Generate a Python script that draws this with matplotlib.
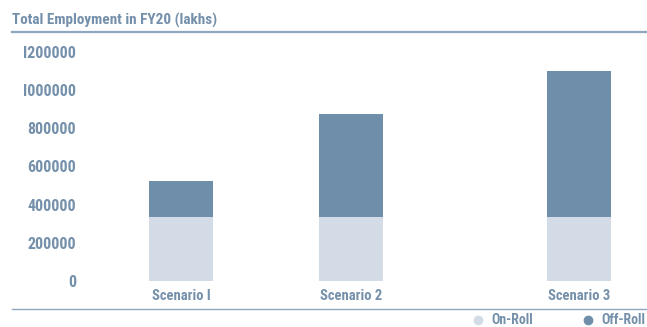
import matplotlib
matplotlib.use("Agg")
import matplotlib.pyplot as plt
from matplotlib import font_manager
from matplotlib.lines import Line2D

# data
scenarios = ["Scenario I", "Scenario 2", "Scenario 3"]
on_roll = [335000, 335000, 335000]
off_roll = [190000, 540000, 765000]
y_ticks = [0, 200000, 400000, 600000, 800000, 1000000, 1200000]
y_tick_labels = ["0", "200000", "400000", "600000", "800000", "I000000", "I200000"]

# styling
light = "#d3dce6"
dark = "#6f8ea9"
txt = "#7590ab"
rule = "#8fa7bf"

# pick a narrow font if one is around
names = {f.name: f for f in font_manager.fontManager.ttflist}
stretch = "normal"
family = "DejaVu Sans"
for cand in ["Liberation Sans Narrow", "Roboto Condensed", "Open Sans Condensed"]:
    if cand in names:
        family = cand
        break
else:
    cond = [f for f in font_manager.fontManager.ttflist
            if f.name == "DejaVu Sans" and f.stretch == "condensed"]
    if cond:
        stretch = "condensed"
plt.rcParams["font.family"] = [family, "DejaVu Sans"]
plt.rcParams["font.stretch"] = stretch
plt.rcParams["font.weight"] = "bold"

W, H = 647, 327
fig = plt.figure(figsize=(W / 100, H / 100), dpi=100)

# layout in pixels
ax_left, ax_bottom, ax_top = 85, 281, 42
ax = fig.add_axes([ax_left / W, (H - ax_bottom) / H, (W - ax_left) / W, (ax_bottom - ax_top) / H])

x_pos = [0, 1, 2.34]  # uneven spacing as in the reference
bw = 0.376
ax.bar(x_pos, on_roll, width=bw, color=light, label="On-Roll")
ax.bar(x_pos, off_roll, width=bw, bottom=on_roll, color=dark, label="Off-Roll")

px_unit = 170.0
ax.set_xlim((ax_left - 181) / px_unit, (W - 181) / px_unit)
ymax = 200000 * (ax_bottom - ax_top) / 38.2
ax.set_ylim(0, ymax)

ax.set_yticks(y_ticks)
ax.set_yticklabels(y_tick_labels)
ax.set_xticks(x_pos)
ax.set_xticklabels(scenarios)
ax.tick_params(axis="both", length=0, colors=txt)
ax.tick_params(axis="y", pad=6.5, labelsize=11.5)
ax.tick_params(axis="x", pad=6, labelsize=10.5)
for s in ax.spines.values():
    s.set_visible(False)

# title and rules
fig.text(12 / W, 1 - 20 / H, "Total Employment in FY20 (lakhs)", color=txt,
         fontsize=11, fontweight="bold", va="center", ha="left")
fig.add_artist(Line2D([12 / W, 1], [1 - 32 / H] * 2, color=rule, lw=1.6))
fig.add_artist(Line2D([12 / W, 1], [1 - 309 / H] * 2, color=rule, lw=1.0))

# legend drawn by hand at the bottom right
leg_y = 1 - 320 / H
for cx, col, lab in [(478, light, "On-Roll"), (588, dark, "Off-Roll")]:
    fig.add_artist(Line2D([cx / W], [leg_y], marker="o", ms=6, color=col, lw=0))
    fig.text((cx + 13) / W, leg_y, lab, color=txt, fontsize=10, fontweight="bold",
             va="center", ha="left")

fig.savefig("out.png", dpi=100)
